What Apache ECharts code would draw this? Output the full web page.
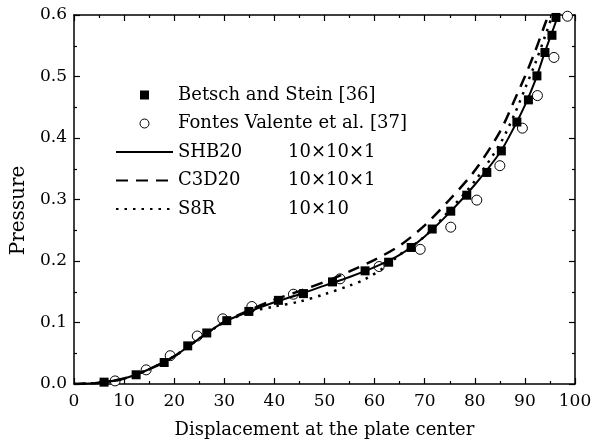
<!DOCTYPE html>
<html>
<head>
<meta charset="utf-8">
<script src="https://cdn.jsdelivr.net/npm/echarts@6/dist/echarts.min.js"></script>
<style>
html, body { margin: 0; padding: 0; background: #fff; }
#chart { width: 602px; height: 446px; }
</style>
</head>
<body>
<div id="chart"></div>
<script>
// tick labels
const xTicks = [0, 10, 20, 30, 40, 50, 60, 70, 80, 90, 100]
const yTicks = ['0.0', '0.1', '0.2', '0.3', '0.4', '0.5', '0.6']

// Betsch and Stein [36] (filled squares)
const betschX = [6.0, 12.4, 18.0, 22.7, 26.5, 30.5, 34.9, 40.8, 45.8, 51.6, 58.1, 62.8, 67.3, 71.5, 75.2, 78.4, 82.4, 85.3, 88.4, 90.7, 92.4, 94.0, 95.4, 96.2]
const betschY = [0.003, 0.015, 0.035, 0.062, 0.083, 0.103, 0.118, 0.136, 0.147, 0.166, 0.184, 0.198, 0.222, 0.252, 0.281, 0.307, 0.344, 0.379, 0.426, 0.462, 0.501, 0.539, 0.567, 0.596]

// Fontes Valente et al. [37] (open circles)
const fontesX = [8.2, 14.4, 19.2, 24.6, 29.7, 35.5, 43.8, 53.1, 60.9, 69.1, 75.2, 80.4, 85.0, 89.5, 92.5, 95.8, 98.5]
const fontesY = [0.005, 0.023, 0.046, 0.078, 0.106, 0.126, 0.146, 0.171, 0.191, 0.219, 0.255, 0.299, 0.355, 0.416, 0.469, 0.531, 0.598]

// SHB20 10x10x1 (solid)
const shbX = [0, 5, 10, 15, 20, 25, 30, 35, 40, 45, 50, 55, 60, 65, 70, 75, 80, 85, 88, 90, 92, 94, 96, 96.6]
const shbY = [0, 0.002, 0.009, 0.024, 0.045, 0.074, 0.101, 0.118, 0.133, 0.146, 0.160, 0.174, 0.190, 0.210, 0.240, 0.279, 0.324, 0.376, 0.420, 0.453, 0.492, 0.540, 0.585, 0.600]

// C3D20 10x10x1 (dashed)
const c3dX = [0, 5, 10, 15, 20, 25, 30, 35, 40, 45, 50, 55, 60, 65, 70, 75, 80, 85, 88, 90, 92, 94, 94.7]
const c3dY = [0, 0.002, 0.009, 0.024, 0.045, 0.074, 0.101, 0.120, 0.137, 0.151, 0.166, 0.183, 0.202, 0.225, 0.258, 0.300, 0.347, 0.410, 0.463, 0.500, 0.540, 0.585, 0.600]

// S8R 10x10 (dotted)
const s8rX = [0, 5, 10, 15, 20, 25, 30, 35, 40, 45, 50, 55, 58, 62, 65, 70, 75, 80, 85, 88, 90, 92, 94, 95.5]
const s8rY = [0, 0.002, 0.009, 0.024, 0.045, 0.074, 0.100, 0.117, 0.126, 0.134, 0.146, 0.160, 0.170, 0.190, 0.210, 0.240, 0.283, 0.330, 0.390, 0.440, 0.480, 0.520, 0.565, 0.600]

const font = 'DejaVu Serif'
const pairs = (xs, ys) => xs.map((x, i) => [x, ys[i]])

const axisLine = { show: true, onZero: false, lineStyle: { color: '#000', width: 1.5 } }
const axisTick = { show: true, inside: true, length: 6, lineStyle: { color: '#000', width: 1.2 } }
const minorTick = { show: true, splitNumber: 2, length: 3, lineStyle: { color: '#000', width: 1.2 } }

const noDot = { opacity: 0 }

const option = {
  animation: false,
  grid: { left: 74, right: 27, top: 15, bottom: 62 },
  legend: {
    orient: 'vertical',
    left: 110,
    top: 81,
    itemWidth: 57,
    itemHeight: 9,
    itemGap: 10.5,
    data: [
      { name: 'Betsch and Stein [36]', icon: 'path://M0,0H10V10H0Z' },
      { name: 'Fontes Valente et al. [37]', itemStyle: { borderWidth: 1 } },
      { name: 'SHB20', itemStyle: noDot },
      { name: 'C3D20', itemStyle: noDot },
      { name: 'S8R', itemStyle: noDot },
    ],
    formatter: (name) => {
      const mesh = { SHB20: '10×10×1', C3D20: '10×10×1', S8R: '10×10' }
      return mesh[name] ? `{n|${name}}{m|${mesh[name]}}` : `{n|${name}}`
    },
    textStyle: {
      fontFamily: font,
      fontSize: 18,
      color: '#000',
      rich: {
        n: { fontFamily: font, fontSize: 18, color: '#000', width: 110, lineHeight: 22 },
        m: { fontFamily: font, fontSize: 18, color: '#000', lineHeight: 22 },
      },
    },
  },
  xAxis: [
    {
      type: 'value', position: 'bottom', min: 0, max: 100, interval: 10,
      axisLine, axisTick, minorTick,
      splitLine: { show: false },
      axisLabel: { color: '#000', fontFamily: font, fontSize: 17, margin: 9,
        formatter: (v) => xTicks.includes(v) ? String(v) : '' },
      name: 'Displacement at the plate center',
      nameLocation: 'middle', nameGap: 37,
      nameTextStyle: { color: '#000', fontFamily: font, fontSize: 18 },
    },
    {
      type: 'value', position: 'top', min: 0, max: 100, interval: 10,
      axisLine, axisTick, minorTick,
      splitLine: { show: false }, axisLabel: { show: false },
    },
  ],
  yAxis: [
    {
      type: 'value', position: 'left', min: 0, max: 0.6, interval: 0.1,
      axisLine, axisTick, minorTick,
      splitLine: { show: false },
      axisLabel: { color: '#000', fontFamily: font, fontSize: 17, margin: 7,
        formatter: (v) => yTicks[Math.round(v * 10)] },
      name: 'Pressure',
      nameLocation: 'middle', nameGap: 42,
      nameTextStyle: { color: '#000', fontFamily: font, fontSize: 20, padding: [0, 22, 0, 0] },
    },
    {
      type: 'value', position: 'right', min: 0, max: 0.6, interval: 0.1,
      axisLine, axisTick, minorTick,
      splitLine: { show: false }, axisLabel: { show: false },
    },
  ],
  series: [
    {
      name: 'SHB20', type: 'line', data: pairs(shbX, shbY),
      symbol: 'none', smooth: 0.3,
      lineStyle: { color: '#000', width: 2, type: 'solid' },
      itemStyle: { color: '#000' },
    },
    {
      name: 'C3D20', type: 'line', data: pairs(c3dX, c3dY),
      symbol: 'none', smooth: 0.3,
      lineStyle: { color: '#000', width: 2.5, type: [12, 8] },
      itemStyle: { color: '#000' },
    },
    {
      name: 'S8R', type: 'line', data: pairs(s8rX, s8rY),
      symbol: 'none', smooth: 0.3,
      lineStyle: { color: '#000', width: 2.5, type: [2.5, 6] },
      itemStyle: { color: '#000' },
    },
    {
      name: 'Fontes Valente et al. [37]', type: 'scatter', data: pairs(fontesX, fontesY),
      symbol: 'circle', symbolSize: 10,
      itemStyle: { color: '#fff', borderColor: '#000', borderWidth: 1, opacity: 1 },
    },
    {
      name: 'Betsch and Stein [36]', type: 'scatter', data: pairs(betschX, betschY),
      symbol: 'rect', symbolSize: 9,
      itemStyle: { color: '#000', opacity: 1 },
    },
  ],
}

const myEcharts = echarts.init(document.getElementById('chart'))
myEcharts.setOption(option)
</script>
</body>
</html>
